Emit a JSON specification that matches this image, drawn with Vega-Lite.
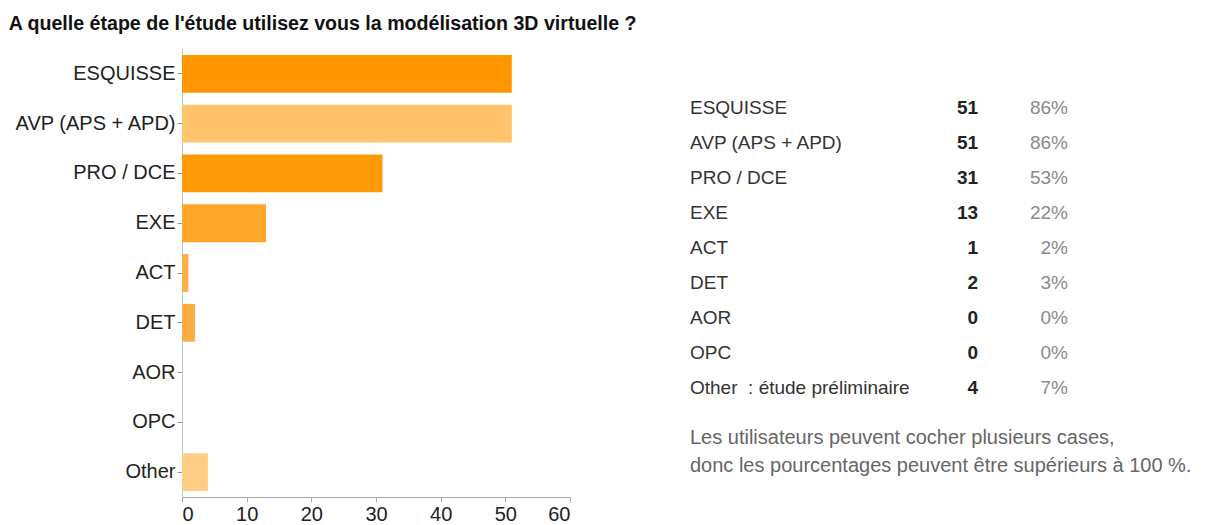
{
  "$schema": "https://vega.github.io/schema/vega-lite/v6.json",
  "background": "white",
  "padding": {"left": 8, "top": 14, "right": 5, "bottom": 5},
  "title": {
    "text": "A quelle étape de l'étude utilisez vous la modélisation 3D virtuelle ?",
    "anchor": "start",
    "font": "Liberation Sans",
    "fontSize": 19.6,
    "fontWeight": "bold",
    "color": "#111111",
    "offset": 14,
    "dx": -5
  },
  "config": {"view": {"stroke": null}, "font": "Liberation Sans"},
  "datasets": {
    "rows": [
      {"stage": "ESQUISSE", "detail": "ESQUISSE", "count": 51, "pct": "86%"},
      {"stage": "AVP (APS + APD)", "detail": "AVP (APS + APD)", "count": 51, "pct": "86%"},
      {"stage": "PRO / DCE", "detail": "PRO / DCE", "count": 31, "pct": "53%"},
      {"stage": "EXE", "detail": "EXE", "count": 13, "pct": "22%"},
      {"stage": "ACT", "detail": "ACT", "count": 1, "pct": "2%"},
      {"stage": "DET", "detail": "DET", "count": 2, "pct": "3%"},
      {"stage": "AOR", "detail": "AOR", "count": 0, "pct": "0%"},
      {"stage": "OPC", "detail": "OPC", "count": 0, "pct": "0%"},
      {"stage": "Other", "detail": "Other \u00a0: étude préliminaire", "count": 4, "pct": "7%"}
    ],
    "notes": [
      {"line": "Les utilisateurs peuvent cocher plusieurs cases,"},
      {"line": "\u00a0donc les pourcentages peuvent être supérieurs à 100 %."}
    ]
  },
  "spacing": 119,
  "hconcat": [
    {
      "width": 388,
      "height": 448,
      "data": {"name": "rows"},
      "mark": {"type": "bar"},
      "encoding": {
        "y": {
          "field": "stage", "type": "nominal", "sort": null,
          "scale": {"paddingInner": 0.24, "paddingOuter": 0.12},
          "axis": {"title": null, "labelFontSize": 20, "labelColor": "#222222", "labelFont": "Liberation Sans",
                   "domainColor": "#b9c3d3", "tickColor": "#999999", "tickSize": 5, "labelPadding": 2, "labelLimit": 300}
        },
        "x": {
          "field": "count", "type": "quantitative",
          "scale": {"domain": [0, 60], "nice": false},
          "axis": {"title": null, "values": [0, 10, 20, 30, 40, 50, 60], "grid": false, "labelFontSize": 20,
                   "labelColor": "#222222", "labelFont": "Liberation Sans", "domainColor": "#aaaaaa",
                   "tickColor": "#aaaaaa", "tickSize": 5, "labelPadding": 2}
        },
        "color": {
          "field": "stage", "type": "nominal",
          "scale": {
            "domain": ["ESQUISSE", "AVP (APS + APD)", "PRO / DCE", "EXE", "ACT", "DET", "AOR", "OPC", "Other"],
            "range": ["#FF9600", "#FFC46C", "#FF9A08", "#FFA52A", "#FBB04C", "#FBAD45", "#FBAD45", "#FFC46C", "#FFCD84"]
          },
          "legend": null
        }
      }
    },
    {
      "width": 378,
      "height": 448,
      "layer": [
        {
          "data": {"name": "rows"},
          "encoding": {
            "y": {"field": "detail", "type": "nominal", "sort": null,
                  "scale": {"type": "point", "padding": 0, "range": [59, 339]}, "axis": null}
          },
          "layer": [
            {
              "mark": {"type": "text", "align": "left", "baseline": "middle", "fontSize": 19, "font": "Liberation Sans", "color": "#333333"},
              "encoding": {
                "x": {"datum": 0, "type": "quantitative", "scale": {"domain": [0, 100], "nice": false, "zero": true}, "axis": null},
                "text": {"field": "detail"}
              }
            },
            {
              "mark": {"type": "text", "align": "right", "baseline": "middle", "fontSize": 19, "fontWeight": "bold", "font": "Liberation Sans", "color": "#222222"},
              "encoding": {
                "x": {"datum": 76.2, "type": "quantitative"},
                "text": {"field": "count"}
              }
            },
            {
              "mark": {"type": "text", "align": "right", "baseline": "middle", "fontSize": 19, "font": "Liberation Sans", "color": "#8a8a8a"},
              "encoding": {
                "x": {"datum": 100, "type": "quantitative"},
                "text": {"field": "pct"}
              }
            }
          ]
        },
        {
          "data": {"name": "notes"},
          "mark": {"type": "text", "align": "left", "baseline": "middle", "fontSize": 20, "font": "Liberation Sans", "color": "#666666"},
          "encoding": {
            "y": {"field": "line", "type": "nominal", "sort": null,
                  "scale": {"type": "point", "padding": 0, "range": [389, 417]}, "axis": null},
            "x": {"datum": 0, "type": "quantitative"},
            "text": {"field": "line"}
          }
        }
      ],
      "resolve": {"scale": {"y": "independent"}}
    }
  ]
}
